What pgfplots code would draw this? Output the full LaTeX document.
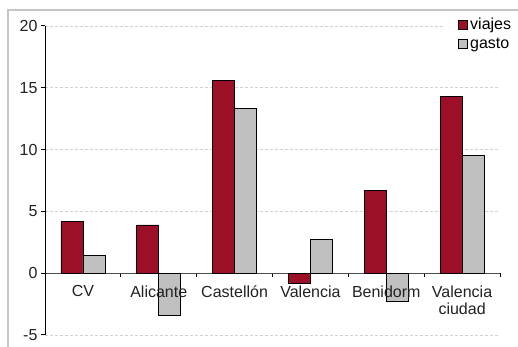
\documentclass[border=0pt]{standalone}
\usepackage{pgfplots}
\pgfplotsset{compat=1.18}
\usepackage{fontspec}
\setmainfont{Liberation Sans}
\definecolor{viajes}{HTML}{9B1026}
\definecolor{gasto}{HTML}{C0C0C0}
\definecolor{txt}{HTML}{222222}
\pgfplotsset{
  common/.style={
    at={(45pt,12pt)}, anchor=south west,
    width=455pt, height=309pt, scale only axis,
    xmin=-0.5, xmax=5.5, ymin=-5, ymax=20,
  },
}
\begin{document}
\begin{tikzpicture}
\fill[white] (0pt,0pt) rectangle (518pt,347pt);
\draw[gray!45, line width=1.2pt] (8pt,0pt) -- (8pt,337pt) -- (518pt,337pt);
\begin{axis}[
  common,
  axis y line*=left, axis x line*=middle,
  ybar=0pt, bar width=22pt,
  ytick={-5,0,5,10,15,20},
  ymajorgrids, grid style={densely dashed, gray!35, line width=0.6pt},
  xtick={0,...,5},
  xticklabels={},
  yticklabel style={text=txt, font=\fontsize{16}{18}\selectfont},
  minor xtick={-0.5,0.5,...,5.5},
  major x tick style={draw=none},
  minor x tick style={black, line width=1pt},
  minor tick length=4pt, major tick length=4pt,
  tick align=outside,
  y tick style={black, line width=1pt},
  x axis line style={black!70, line width=1.2pt},
  y axis line style={black, line width=1pt},
  /pgf/number format/assume math mode=true,
  legend style={at={(1.06,1.0385)}, anchor=north east, draw=none, fill=white,
    font=\fontsize{16}{18}\selectfont, row sep=3pt, inner xsep=14pt, inner ysep=2pt},
  legend cell align=left,
  legend image code/.code={\draw[#1, line width=0.8pt] (0pt,-4.5pt) rectangle (9pt,4.5pt);},
]
\addplot[fill=viajes, draw=black, line width=0.8pt] coordinates {(0,4.2) (1,3.9) (2,15.6) (3,-0.8) (4,6.7) (5,14.3)};
\addplot[fill=gasto, draw=black, line width=0.8pt] coordinates {(0,1.4) (1,-3.4) (2,13.3) (3,2.7) (4,-2.3) (5,9.5)};
\legend{viajes,gasto}
\end{axis}
\begin{axis}[
  common,
  axis x line*=middle, hide y axis,
  x axis line style={draw=none},
  xtick={0,...,5},
  xticklabels={CV,Alicante,Castellón,Valencia,Benidorm,{Valencia\\ciudad}},
  xticklabel style={align=center, yshift=-9pt, text=txt, font=\fontsize{16}{17}\selectfont},
  major tick length=0pt,
  x tick style={draw=none},
]
\end{axis}
\pgfresetboundingbox
\path[use as bounding box] (0pt,0pt) rectangle (518pt,347pt);
\end{tikzpicture}
\end{document}
